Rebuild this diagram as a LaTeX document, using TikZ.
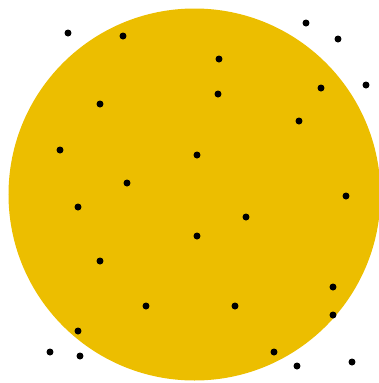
\documentclass[tikz,border=0pt]{standalone}
\usepackage{xcolor}
\usepackage{tikz}
\definecolor{disc}{RGB}{236,190,0}

\begin{document}
\begin{tikzpicture}[
    x=0.02cm, y=-0.02cm,
    disk/.style={fill=disc, draw=none},
    pt/.style={circle, fill=black, inner sep=0pt, minimum size=0.14cm},
]

\useasboundingbox (0,0) rectangle (379,383);

\fill[disk] (194.5,194.5) circle (186);

% sample points
\foreach \x/\y [count=\i] in {68/33, 123/36, 306/23, 338/39, 219/59, 366/85,
    321/88, 218/94, 100/104, 299/121, 60/150, 197/155, 127/183, 346/196,
    78/207, 246/217, 197/236, 100/261, 333/287, 146/306, 235/306, 333/315,
    78/331, 50/352, 80/356, 274/352, 297/366, 352/362}
    \node[pt] (p\i) at (\x,\y) {};

\end{tikzpicture}
\end{document}
